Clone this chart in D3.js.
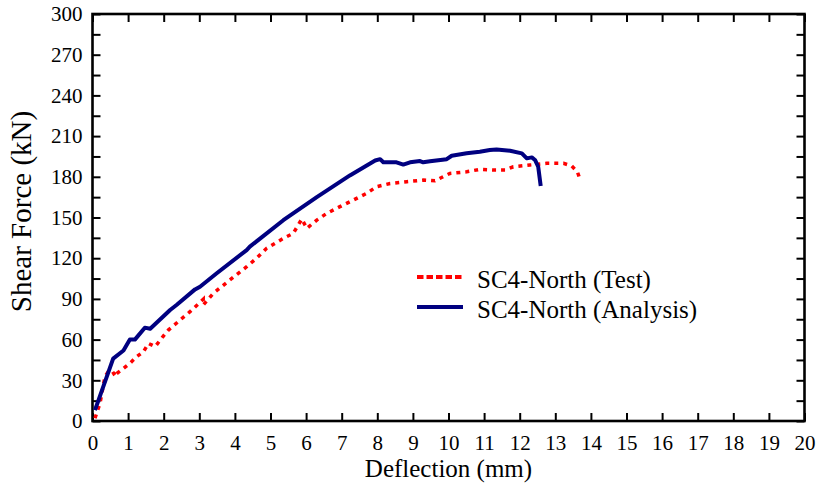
<!DOCTYPE html>
<html>
<head>
<meta charset="utf-8">
<script src="https://cdn.jsdelivr.net/npm/d3@7"></script>
<style>
  html, body { margin: 0; padding: 0; background: #fff; }
  svg { display: block; font-family: 'Liberation Serif', 'Times New Roman', serif; }
</style>
</head>
<body>
<div id="chart"></div>
<script>
// Analysis curve (deflection mm, shear kN)
const analysisDefl = [0.07, 0.58, 0.87, 1.05, 1.19, 1.47, 1.62, 2.18, 2.36, 2.88, 3.02, 3.49, 4.33, 4.42, 5.36, 6.30, 7.23, 7.94, 8.08, 8.17, 8.54, 8.73, 8.92, 9.20, 9.29, 9.48, 9.95, 10.09, 10.51, 10.88, 11.16, 11.35, 11.73, 12.06, 12.20, 12.34, 12.43, 12.52, 12.59];
const analysisShear = [8, 46, 52, 60, 60, 68.8, 68, 81.8, 85.5, 97, 99, 108.9, 126, 128.5, 148, 165, 181, 192, 193, 190.7, 190.7, 189, 190.7, 191.6, 190.7, 191.4, 193, 195.5, 197.3, 198.5, 199.7, 200.2, 199.2, 197.3, 193.6, 194.3, 192.4, 187.4, 173.2];

// Test curve
const testDefl = [0.07, 0.21, 0.35, 0.44, 0.55, 0.62, 0.66, 0.68, 0.87, 1.05, 1.24, 1.43, 1.57, 1.76, 1.99, 2.13, 2.46, 2.74, 3.11, 3.11, 3.39, 3.86, 4.33, 4.61, 4.89, 5.36, 5.64, 5.88, 6.02, 6.30, 6.58, 6.95, 7.33, 7.70, 7.98, 8.36, 8.83, 9.30, 9.62, 10.04, 10.51, 10.88, 11.31, 11.59, 11.82, 12.29, 12.76, 13.23, 13.46, 13.62, 13.69, 13.72];
const testShear = [2, 13, 32.7, 36.3, 37, 34, 32.7, 35, 38.8, 42.5, 47.4, 51, 57.2, 54.8, 62.6, 67, 74.4, 80.6, 89.7, 85.5, 94, 104, 113.7, 120, 127.3, 134.6, 138.3, 148.9, 142, 148.1, 153, 158, 162.9, 167.8, 172.7, 175.1, 176.4, 177.6, 177.1, 182.5, 183.7, 185.5, 185, 185, 187.4, 188.7, 189.9, 189.9, 188, 183.7, 178.4, 178];

const xTicks = d3.range(0, 21, 1);
const yTicks = d3.range(0, 301, 15);
const legendLabels = ['SC4-North (Test)', 'SC4-North (Analysis)'];

const width = 819;
const height = 489;
const plot = { left: 92.5, right: 804.5, top: 14, bottom: 421 };

const svg = d3
  .select('#chart')
  .append('svg')
  .attr('width', width)
  .attr('height', height);

const x = d3.scaleLinear().domain([0, 20]).range([plot.left, plot.right]);
const y = d3.scaleLinear().domain([0, 300]).range([plot.bottom, plot.top]);

// d3 axis sets sans-serif on the group, drop it so the serif font applies
const tickFont = (g) => {
  g.attr('font-family', null).attr('font-size', 21);
  g.selectAll('text').attr('fill', '#000');
};
const tickLines = (g) => {
  g.select('.domain').remove();
  g.selectAll('line').attr('stroke', '#000').attr('stroke-width', 2);
};

// Axes, ticks point inward
svg.append('g')
  .attr('transform', `translate(0,${plot.bottom})`)
  .call(d3.axisBottom(x).tickValues(xTicks).tickSize(-8).tickPadding(14).tickFormat(d3.format('d')))
  .call(tickLines)
  .call(tickFont);

svg.append('g')
  .attr('transform', `translate(0,${plot.top})`)
  .call(d3.axisTop(x).tickValues(xTicks).tickSize(-8).tickFormat(''))
  .call(tickLines);

svg.append('g')
  .attr('transform', `translate(${plot.left},0)`)
  .call(d3.axisLeft(y).tickValues(yTicks).tickSize(-8).tickPadding(10)
    .tickFormat((d) => (d % 30 === 0 ? d : '')))
  .call(tickLines)
  .call(tickFont);

svg.append('g')
  .attr('transform', `translate(${plot.right},0)`)
  .call(d3.axisRight(y).tickValues(yTicks).tickSize(-8).tickFormat(''))
  .call(tickLines);

// Frame
svg.append('rect')
  .attr('x', plot.left)
  .attr('y', plot.top)
  .attr('width', plot.right - plot.left)
  .attr('height', plot.bottom - plot.top)
  .attr('fill', 'none')
  .attr('stroke', '#000')
  .attr('stroke-width', 2.6);

// Curves
const line = d3.line()
  .x((d) => x(d[0]))
  .y((d) => y(d[1]));

const testData = d3.zip(testDefl, testShear);
const analysisData = d3.zip(analysisDefl, analysisShear);

svg.append('path')
  .datum(testData)
  .attr('d', line)
  .attr('fill', 'none')
  .attr('stroke', '#ff0000')
  .attr('stroke-width', 3.5)
  .attr('stroke-dasharray', '4,5');

svg.append('path')
  .datum(analysisData)
  .attr('d', line)
  .attr('fill', 'none')
  .attr('stroke', '#000080')
  .attr('stroke-width', 4)
  .attr('stroke-linejoin', 'round');

// Axis titles
svg.append('text')
  .attr('x', (plot.left + plot.right) / 2)
  .attr('y', 477)
  .attr('text-anchor', 'middle')
  .attr('font-size', 25)
  .text('Deflection (mm)');

svg.append('text')
  .attr('transform', `translate(31,${(plot.top + plot.bottom) / 2 - 6}) rotate(-90)`)
  .attr('text-anchor', 'middle')
  .attr('font-size', 29)
  .text('Shear Force (kN)');

// Legend
const legend = svg.append('g').attr('transform', 'translate(417,277)');
const legendStyles = [
  { stroke: '#ff0000', dash: '6.5,3' },
  { stroke: '#000080', dash: null },
];

legendLabels.forEach((label, i) => {
  const row = legend.append('g').attr('transform', `translate(0,${i * 30})`);
  row.append('line')
    .attr('x1', 0)
    .attr('x2', 46)
    .attr('stroke', legendStyles[i].stroke)
    .attr('stroke-width', 4)
    .attr('stroke-dasharray', legendStyles[i].dash);
  row.append('text')
    .attr('x', 60)
    .attr('y', 10.5)
    .attr('font-size', 25)
    .text(label);
});
</script>
</body>
</html>
